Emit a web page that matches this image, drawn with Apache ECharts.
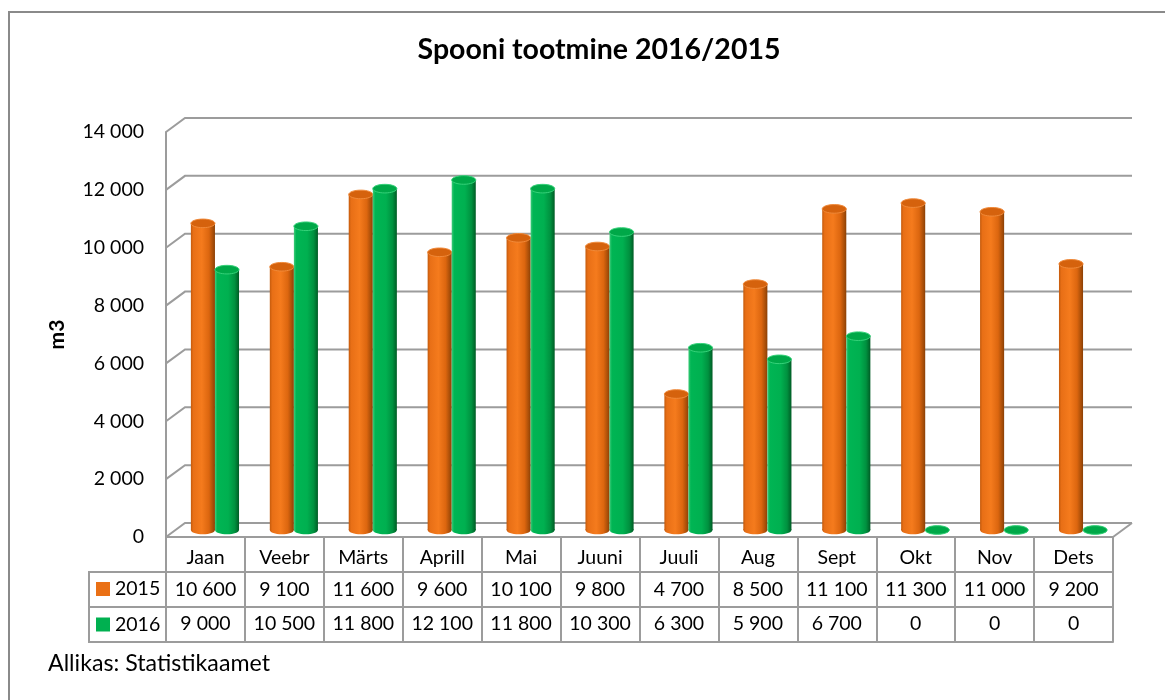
<!DOCTYPE html>
<html><head><meta charset="utf-8">
<script src="https://cdn.jsdelivr.net/npm/echarts@6/dist/echarts.min.js"></script>
<style>html,body{margin:0;padding:0;background:#fff}#c{width:1165px;height:700px}</style>
</head><body><div id="c"></div>
<script>
const categories = ['Jaan','Veebr','Märts','Aprill','Mai','Juuni','Juuli','Aug','Sept','Okt','Nov','Dets'];
const values2015 = [10600, 9100, 11600, 9600, 10100, 9800, 4700, 8500, 11100, 11300, 11000, 9200];
const values2016 = [9000, 10500, 11800, 12100, 11800, 10300, 6300, 5900, 6700, 0, 0, 0];
const yTicks = [0, 2000, 4000, 6000, 8000, 10000, 12000, 14000];
const seriesNames = ['2015', '2016'];
const titleText = 'Spooni tootmine 2016/2015';
const yAxisName = 'm3';
const sourceText = 'Allikas: Statistikaamet';

const FONT = 'Lato';
const FS = 19.5;
const LINE = '#9c9c9c';
const DX = 19, DY = -14;
const fmt = n => String(n).replace(/\B(?=(\d{3})+(?!\d))/g, ' ');

const orangeGrad = [
  {offset: 0, color: '#c45a0c'}, {offset: 0.1, color: '#e86f16'},
  {offset: 0.45, color: '#f57b1d'}, {offset: 0.75, color: '#dc660f'},
  {offset: 0.93, color: '#a44c08'}, {offset: 1, color: '#8a3f05'}
];
const greenGrad = [
  {offset: 0, color: '#3fcc7a'}, {offset: 0.1, color: '#00b554'},
  {offset: 0.55, color: '#00b050'}, {offset: 0.82, color: '#00913f'},
  {offset: 0.94, color: '#006e2e'}, {offset: 1, color: '#005a24'}
];

function cylinder(side, grad, capFill, capStroke) {
  return function (params, api) {
    const idx = api.value(0), v = api.value(1);
    const top = api.coord([idx, v]), base = api.coord([idx, 0]);
    const bw = api.size([1, 0])[0];
    const w = bw * 0.305, rx = w / 2, ry = 4.3;
    const cx = top[0] + DX / 2 + side * w / 2;
    const ty = top[1] + DY / 2, by = base[1] + DY / 2;
    const fill = {type: 'linear', x: 0, y: 0, x2: 1, y2: 0, colorStops: grad};
    return {type: 'group', children: [
      {type: 'ellipse', shape: {cx: cx, cy: by, rx: rx, ry: ry}, style: {fill: fill}},
      {type: 'rect', shape: {x: cx - rx, y: ty, width: w, height: by - ty}, style: {fill: fill}},
      {type: 'ellipse', shape: {cx: cx, cy: ty, rx: rx, ry: ry}, style: {fill: capFill, stroke: capStroke, lineWidth: 1}}
    ]};
  };
}

function frameRender(params, api) {
  const v = api.value(1);
  const p = api.coord([0, v]);
  const bw = api.size([1, 0])[0];
  const left = p[0] - bw / 2, right = left + bw * categories.length, y = p[1];
  const st = {stroke: LINE, lineWidth: 2, fill: null};
  const children = [{type: 'polyline', shape: {points: [[left, y], [left + DX, y + DY], [right + DX, y + DY]]}, style: st}];
  if (v === 0) children.push({type: 'line', shape: {x1: right, y1: y, x2: right + DX, y2: y + DY}, style: st});
  return {type: 'group', children: children};
}

const tableAxis = (offset, margin, formatter, showLabel, showTick) => ({
  type: 'category', gridIndex: 0, position: 'bottom', offset: offset, data: categories, boundaryGap: true,
  axisLine: {show: true, lineStyle: {color: LINE, width: 2}},
  axisTick: {show: showTick, length: 35, interval: 0, lineStyle: {color: LINE, width: 2}},
  axisLabel: {show: showLabel, interval: 0, margin: margin, fontFamily: FONT, fontSize: FS, lineHeight: 20, color: '#000', formatter: formatter},
  splitLine: {show: false}
});

const chart = echarts.init(document.getElementById('c'), null, {renderer: 'canvas'});
chart.setOption({
  animation: false,
  backgroundColor: '#fff',
  legend: {data: seriesNames, orient: 'vertical', left: 96, top: 579, padding: 0, itemWidth: 14, itemHeight: 14, itemGap: 15.5,
    icon: 'rect', selectedMode: false,
    textStyle: {fontFamily: FONT, fontSize: FS, lineHeight: 20, color: '#000'}},
  grid: {left: 166, right: 52, top: 132, bottom: 163, containLabel: false, outerBoundsMode: 'none'},
  xAxis: [
    tableAxis(0, 11, null, true, true),
    tableAxis(35, 7.5, (val, i) => fmt(values2015[i]), true, true),
    tableAxis(70, 7, (val, i) => fmt(values2016[i]), true, true),
    tableAxis(105, 0, null, false, false)
  ],
  yAxis: {type: 'value', min: 0, max: 14000, interval: 2000,
    name: yAxisName, nameLocation: 'middle', nameRotate: 90, nameGap: 98,
    nameTextStyle: {fontFamily: FONT, fontWeight: 'bold', fontSize: 21, color: '#000'},
    axisLine: {show: true, lineStyle: {color: LINE, width: 2}},
    axisTick: {show: false}, splitLine: {show: false},
    axisLabel: {margin: 22, fontFamily: FONT, fontSize: FS, color: '#000', formatter: v => fmt(v)}},
  graphic: [
    {type: 'polyline', shape: {points: [[9, 700], [9, 12], [1165, 12]]}, style: {stroke: '#8a8a8a', lineWidth: 2, fill: null}},
    {type: 'polyline', shape: {points: [[166, 572], [89, 572], [89, 642], [166, 642]]}, style: {stroke: LINE, lineWidth: 2, fill: null}},
    {type: 'line', shape: {x1: 89, y1: 607, x2: 166, y2: 607}, style: {stroke: LINE, lineWidth: 2}},
    {type: 'text', x: 599, y: 50, style: {text: titleText, fontFamily: FONT, fontWeight: 'bold', fontSize: 28.5, fill: '#000', align: 'center', verticalAlign: 'middle'}},
    {type: 'text', x: 48, y: 664, style: {text: sourceText, fontFamily: FONT, fontSize: 23.2, fill: '#000', align: 'left', verticalAlign: 'middle'}}
  ],
  series: [
    {type: 'custom', name: 'frame', silent: true, z: 1, encode: {x: 0, y: 1},
      data: yTicks.map(v => [0, v]), renderItem: frameRender},
    {type: 'custom', name: seriesNames[0], z: 3, encode: {x: 0, y: 1}, itemStyle: {color: '#ea7015'},
      data: values2015.map((v, i) => [i, v]), renderItem: cylinder(-1, orangeGrad, '#d5620d', '#f08a3a')},
    {type: 'custom', name: seriesNames[1], z: 4, encode: {x: 0, y: 1}, itemStyle: {color: '#00b050'},
      data: values2016.map((v, i) => [i, v]), renderItem: cylinder(1, greenGrad, '#00a848', '#36d27a')}
  ]
});
</script></body></html>
